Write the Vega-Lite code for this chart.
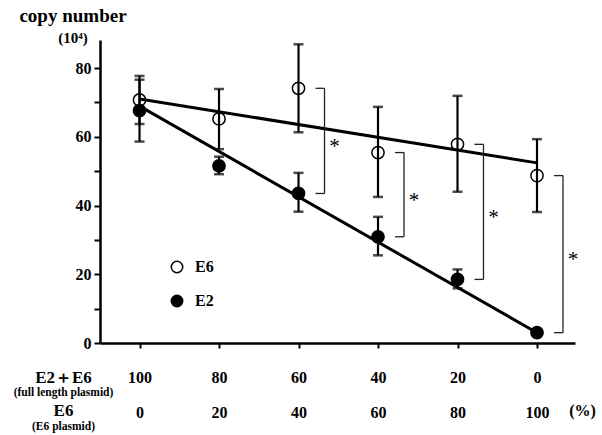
{
  "$schema": "https://vega.github.io/schema/vega-lite/v6.json",
  "width": 475,
  "height": 303,
  "autosize": "none",
  "padding": {"left": 100, "top": 40, "right": 27, "bottom": 92},
  "background": "white",
  "config": {
    "view": {"stroke": null},
    "font": "Liberation Serif",
    "axis": {"grid": false, "domainColor": "black", "tickColor": "black", "labelColor": "black", "titleColor": "black", "labelFont": "Liberation Serif", "titleFont": "Liberation Serif", "labelFontWeight": "bold", "titleFontWeight": "bold"}
  },
  "title": {
    "text": "copy number",
    "subtitle": "(10⁴)",
    "anchor": "start",
    "frame": "group",
    "align": "center",
    "dx": -27,
    "offset": -6,
    "font": "Liberation Serif",
    "fontSize": 19,
    "fontWeight": "bold",
    "color": "black",
    "subtitleFont": "Liberation Serif",
    "subtitleFontSize": 15,
    "subtitleFontWeight": "bold",
    "subtitleColor": "black",
    "subtitlePadding": 5
  },
  "datasets": {
    "pts": [
      {"pct": 0, "series": "E6", "mean": 70.7, "lo": 63.7, "hi": 77.7},
      {"pct": 20, "series": "E6", "mean": 65.2, "lo": 56.4, "hi": 73.9},
      {"pct": 40, "series": "E6", "mean": 74.1, "lo": 61.3, "hi": 86.9},
      {"pct": 60, "series": "E6", "mean": 55.4, "lo": 42.5, "hi": 68.7},
      {"pct": 80, "series": "E6", "mean": 57.8, "lo": 44.0, "hi": 71.9},
      {"pct": 100, "series": "E6", "mean": 48.7, "lo": 38.1, "hi": 59.3},
      {"pct": 0, "series": "E2", "mean": 67.6, "lo": 58.6, "hi": 76.6},
      {"pct": 20, "series": "E2", "mean": 51.5, "lo": 49.1, "hi": 54.2},
      {"pct": 40, "series": "E2", "mean": 43.5, "lo": 38.2, "hi": 49.5},
      {"pct": 60, "series": "E2", "mean": 30.9, "lo": 25.5, "hi": 36.7},
      {"pct": 80, "series": "E2", "mean": 18.5, "lo": 15.9, "hi": 21.4},
      {"pct": 100, "series": "E2", "mean": 3.0, "lo": 3.0, "hi": 3.0}
    ],
    "fit": [
      {"series": "E6", "pct": 0, "value": 71.0},
      {"series": "E6", "pct": 100, "value": 52.4},
      {"series": "E2", "pct": 0, "value": 68.9},
      {"series": "E2", "pct": 100, "value": 3.0}
    ]
  },
  "resolve": {"axis": {"x": "independent", "y": "independent"}},
  "layer": [
    {
      "data": {"name": "fit"},
      "mark": {"type": "line", "color": "black", "strokeWidth": 3},
      "encoding": {
        "x": {"field": "pct", "type": "quantitative", "scale": {"domain": [-9.94, 109.56], "nice": false, "zero": false},
          "axis": {"values": [0, 20, 40, 60, 80, 100], "labelExpr": "[toString(100 - datum.value), datum.label]", "labelFontSize": 16, "labelBaseline": "alphabetic", "labelPadding": 34, "labelLineHeight": 35, "labelFlush": false, "labelOverlap": false, "tickSize": 5, "tickWidth": 2, "domainWidth": 2.5,
            "title": ["E2＋E6", "E6"], "titleFontSize": 17, "titleLineHeight": 33, "titleBaseline": "alphabetic", "titleAlign": "center", "titleX": -37, "titleY": 39}},
        "y": {"field": "value", "type": "quantitative", "scale": {"domain": [0, 88.15], "nice": false},
          "axis": {"values": [0, 10, 20, 30, 40, 50, 60, 70, 80], "labelExpr": "datum.value % 20 == 0 ? datum.label : ''", "labelFontSize": 16, "labelBaseline": "middle", "labelPadding": 3, "tickSize": 6, "tickWidth": 2, "domainWidth": 2.5, "title": null}},
        "detail": {"field": "series"}
      }
    },
    {
      "data": {"name": "pts"},
      "mark": {"type": "rule", "color": "black", "strokeWidth": 2.2},
      "encoding": {
        "x": {"field": "pct", "type": "quantitative",
          "axis": {"orient": "top", "domain": false, "ticks": false, "labels": false, "title": ["(full length plasmid)", "(E6 plasmid)"], "titleFontSize": 11.5, "titleLineHeight": 34, "titleBaseline": "alphabetic", "titleAlign": "center", "titleX": -37, "titleY": 355, "titleAngle": 0}},
        "y": {"field": "lo", "type": "quantitative",
          "axis": {"orient": "right", "domain": false, "ticks": false, "labels": false, "title": "(%)", "titleFontSize": 16, "titleAngle": 0, "titleBaseline": "alphabetic", "titleAlign": "center", "titleX": 7, "titleY": 375}},
        "y2": {"field": "hi"}
      }
    },
    {
      "data": {"name": "pts"},
      "mark": {"type": "tick", "color": "black", "orient": "horizontal", "size": 10, "thickness": 2.5},
      "encoding": {
        "x": {"field": "pct", "type": "quantitative", "axis": null},
        "y": {"field": "lo", "type": "quantitative", "axis": null}
      }
    },
    {
      "data": {"name": "pts"},
      "mark": {"type": "tick", "color": "black", "orient": "horizontal", "size": 10, "thickness": 2.5},
      "encoding": {
        "x": {"field": "pct", "type": "quantitative", "axis": null},
        "y": {"field": "hi", "type": "quantitative", "axis": null}
      }
    },
    {
      "data": {"name": "pts"},
      "mark": {"type": "point", "shape": "circle", "filled": true, "size": 150, "stroke": "black", "strokeWidth": 1.5, "opacity": 1},
      "encoding": {
        "x": {"field": "pct", "type": "quantitative", "axis": null},
        "y": {"field": "mean", "type": "quantitative", "axis": null},
        "fill": {"field": "series", "type": "nominal", "scale": {"domain": ["E6", "E2"], "range": ["transparent", "black"]},
          "legend": {"orient": "none", "legendX": 69, "legendY": 219, "title": null, "padding": 0, "symbolType": "circle", "symbolSize": 130, "symbolStrokeColor": "black", "symbolStrokeWidth": 1.5, "labelFont": "Liberation Serif", "labelFontWeight": "bold", "labelFontSize": 16, "labelColor": "black", "labelOffset": 10, "rowPadding": 16}}
      }
    },
    {
      "data": {"name": "pts"},
      "transform": [{"filter": "datum.pct >= 40"}],
      "mark": {"type": "rule", "color": "#222", "strokeWidth": 1.3, "xOffset": 26},
      "encoding": {
        "x": {"field": "pct", "type": "quantitative", "axis": null},
        "y": {"aggregate": "min", "field": "mean", "type": "quantitative", "axis": null},
        "y2": {"aggregate": "max", "field": "mean"}
      }
    },
    {
      "data": {"name": "pts"},
      "transform": [{"filter": "datum.pct >= 40"}],
      "mark": {"type": "rule", "color": "#222", "strokeWidth": 1.3, "xOffset": 17, "x2Offset": 26},
      "encoding": {
        "x": {"field": "pct", "type": "quantitative", "axis": null},
        "x2": {"field": "pct"},
        "y": {"field": "mean", "type": "quantitative", "axis": null}
      }
    },
    {
      "data": {"name": "pts"},
      "transform": [{"filter": "datum.pct >= 40"}],
      "mark": {"type": "text", "text": "*", "font": "Liberation Serif", "fontSize": 21, "color": "black", "dx": 36, "dy": 6, "align": "center", "baseline": "middle"},
      "encoding": {
        "x": {"field": "pct", "type": "quantitative", "axis": null},
        "y": {"aggregate": "mean", "field": "mean", "type": "quantitative", "axis": null}
      }
    }
  ]
}
